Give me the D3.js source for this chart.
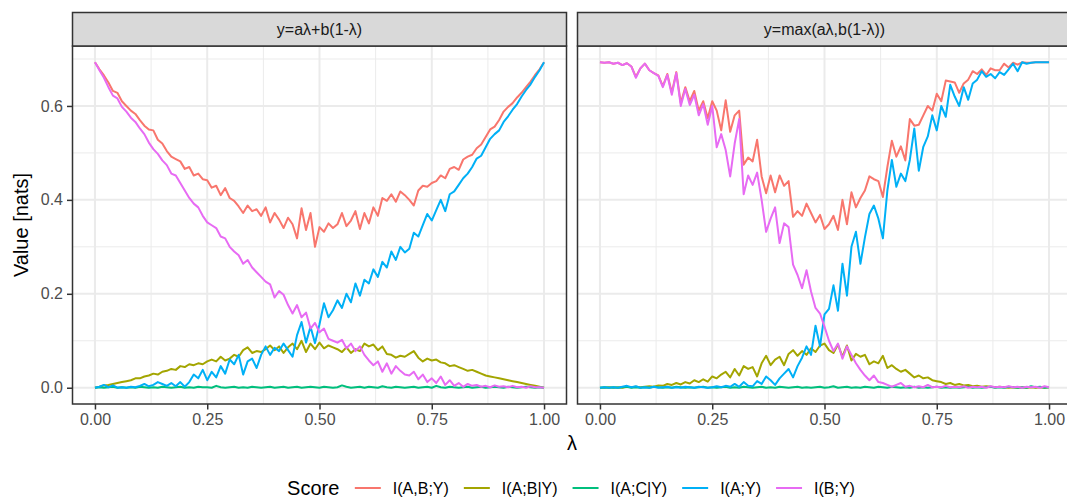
<!DOCTYPE html>
<meta charset="utf-8">
<script src="https://cdn.jsdelivr.net/npm/d3@7"></script>
<style>
  body { margin: 0; background: #fff; }
</style>
<body>
<script>
var lambda = d3.range(101).map(i => i / 100);
var scores = ["I(A,B;Y)", "I(A;B|Y)", "I(A;C|Y)", "I(A;Y)", "I(B;Y)"];
var colors = ["#F8766D", "#A3A500", "#00BF7D", "#00B0F6", "#E76BF3"];
var facets = ["y=aλ+b(1-λ)", "y=max(aλ,b(1-λ))"];
var xTicks = [0, 0.25, 0.5, 0.75, 1];
var xMinor = [0.125, 0.375, 0.625, 0.875];
var yTicks = [0, 0.2, 0.4, 0.6];
var yMinor = [0.1, 0.3, 0.5, 0.7];

// y = a*lambda + b*(1-lambda), one value per lambda step of 0.01
var linABY = [0.693,0.678,0.665,0.650,0.632,0.628,0.610,0.600,0.590,0.583,
  0.570,0.558,0.550,0.548,0.528,0.520,0.504,0.492,0.487,0.482,
  0.466,0.470,0.452,0.456,0.444,0.442,0.426,0.430,0.410,0.425,
  0.404,0.398,0.386,0.372,0.388,0.376,0.380,0.366,0.384,0.352,
  0.372,0.358,0.340,0.362,0.348,0.318,0.382,0.336,0.372,0.300,
  0.342,0.332,0.350,0.340,0.348,0.372,0.344,0.356,0.376,0.338,
  0.372,0.350,0.384,0.366,0.404,0.398,0.412,0.396,0.418,0.410,
  0.400,0.388,0.420,0.430,0.428,0.436,0.440,0.452,0.446,0.466,
  0.470,0.464,0.486,0.492,0.496,0.510,0.518,0.534,0.550,0.556,
  0.570,0.588,0.598,0.606,0.618,0.628,0.640,0.652,0.666,0.678,
  0.693];
var linABgY = [0.000,0.002,0.005,0.006,0.008,0.010,0.012,0.014,0.016,0.020,
  0.020,0.024,0.026,0.030,0.028,0.034,0.036,0.040,0.038,0.046,
  0.044,0.050,0.048,0.052,0.050,0.056,0.060,0.056,0.066,0.058,
  0.062,0.070,0.066,0.080,0.086,0.074,0.078,0.076,0.082,0.090,
  0.080,0.088,0.074,0.086,0.094,0.082,0.100,0.076,0.094,0.082,
  0.096,0.084,0.090,0.086,0.082,0.076,0.086,0.074,0.082,0.078,
  0.094,0.088,0.092,0.080,0.088,0.072,0.070,0.064,0.068,0.066,
  0.072,0.078,0.064,0.056,0.062,0.058,0.060,0.054,0.052,0.046,
  0.048,0.044,0.040,0.036,0.038,0.034,0.030,0.026,0.024,0.022,
  0.020,0.018,0.016,0.014,0.012,0.010,0.008,0.006,0.004,0.002,
  0.000];
var linACgY = [0.000,0.001,0.000,0.001,0.002,0.000,0.001,0.000,0.001,0.000,
  0.002,0.001,0.000,0.001,0.000,0.002,0.001,0.000,0.001,0.002,
  0.000,0.001,0.000,0.002,0.001,0.001,0.000,0.004,0.001,0.000,
  0.001,0.002,0.000,0.001,0.000,0.002,0.001,0.000,0.001,0.002,
  0.000,0.001,0.002,0.000,0.001,0.002,0.000,0.001,0.002,0.001,
  0.000,0.002,0.001,0.000,0.001,0.005,0.002,0.000,0.001,0.002,
  0.000,0.002,0.001,0.000,0.003,0.001,0.000,0.002,0.001,0.000,
  0.001,0.002,0.000,0.001,0.002,0.000,0.004,0.001,0.000,0.002,
  0.001,0.000,0.001,0.002,0.000,0.001,0.002,0.000,0.001,0.002,
  0.001,0.000,0.002,0.001,0.000,0.001,0.002,0.001,0.000,0.001,
  0.000];
var linAY = [0.000,0.002,0.006,0.001,0.005,0.000,0.001,0.000,0.002,0.001,
  0.004,0.008,0.003,0.006,0.012,0.008,0.004,0.010,0.003,0.012,
  0.002,0.012,0.028,0.020,0.038,0.016,0.034,0.022,0.046,0.030,
  0.060,0.050,0.070,0.028,0.056,0.062,0.042,0.070,0.088,0.070,
  0.085,0.078,0.094,0.080,0.066,0.112,0.140,0.096,0.130,0.095,
  0.135,0.180,0.150,0.165,0.186,0.170,0.200,0.182,0.222,0.196,
  0.230,0.222,0.252,0.236,0.268,0.256,0.290,0.272,0.300,0.288,
  0.296,0.330,0.322,0.346,0.370,0.356,0.378,0.400,0.376,0.412,
  0.418,0.432,0.446,0.456,0.470,0.488,0.494,0.512,0.530,0.540,
  0.548,0.566,0.578,0.592,0.604,0.620,0.634,0.646,0.662,0.676,
  0.693];
var linBY = [0.693,0.676,0.660,0.640,0.622,0.616,0.598,0.588,0.575,0.566,
  0.552,0.540,0.522,0.508,0.498,0.484,0.474,0.456,0.452,0.436,
  0.420,0.404,0.392,0.384,0.366,0.352,0.346,0.340,0.322,0.318,
  0.300,0.290,0.282,0.264,0.272,0.256,0.246,0.236,0.226,0.220,
  0.192,0.206,0.198,0.176,0.158,0.176,0.150,0.160,0.126,0.138,
  0.118,0.126,0.104,0.100,0.096,0.102,0.084,0.094,0.078,0.088,
  0.070,0.058,0.048,0.056,0.034,0.052,0.030,0.046,0.036,0.028,
  0.026,0.034,0.018,0.028,0.012,0.020,0.010,0.024,0.006,0.016,
  0.004,0.010,0.002,0.008,0.004,0.006,0.002,0.004,0.001,0.005,
  0.002,0.003,0.001,0.004,0.001,0.002,0.000,0.003,0.001,0.001,
  0.000];

// y = max(a*lambda, b*(1-lambda))
var maxABY = [0.693,0.692,0.693,0.690,0.692,0.687,0.691,0.684,0.662,0.680,
  0.690,0.676,0.670,0.665,0.642,0.668,0.628,0.672,0.606,0.640,
  0.610,0.632,0.590,0.610,0.574,0.610,0.590,0.548,0.612,0.545,
  0.580,0.590,0.475,0.490,0.482,0.528,0.450,0.414,0.452,0.416,
  0.452,0.430,0.440,0.364,0.376,0.366,0.392,0.372,0.352,0.368,
  0.338,0.348,0.366,0.336,0.400,0.348,0.416,0.384,0.404,0.420,
  0.450,0.444,0.440,0.406,0.470,0.526,0.492,0.514,0.484,0.572,
  0.558,0.560,0.580,0.600,0.590,0.626,0.610,0.654,0.652,0.650,
  0.628,0.648,0.656,0.674,0.668,0.678,0.666,0.680,0.676,0.676,
  0.690,0.682,0.692,0.688,0.693,0.692,0.692,0.693,0.693,0.693,
  0.693];
var maxABgY = [0.000,0.000,0.001,0.000,0.001,0.000,0.002,0.001,0.002,0.001,
  0.002,0.003,0.002,0.005,0.004,0.008,0.006,0.010,0.007,0.012,
  0.009,0.016,0.012,0.018,0.013,0.024,0.020,0.028,0.034,0.022,
  0.040,0.026,0.046,0.040,0.044,0.024,0.052,0.068,0.048,0.060,
  0.066,0.048,0.072,0.080,0.068,0.078,0.070,0.084,0.076,0.090,
  0.094,0.080,0.074,0.092,0.066,0.090,0.058,0.072,0.066,0.070,
  0.050,0.056,0.052,0.068,0.042,0.048,0.040,0.034,0.038,0.030,
  0.022,0.026,0.020,0.022,0.016,0.014,0.012,0.008,0.010,0.006,
  0.008,0.005,0.006,0.003,0.004,0.002,0.003,0.002,0.001,0.002,
  0.001,0.000,0.001,0.000,0.001,0.000,0.001,0.000,0.001,0.000,
  0.001];
var maxACgY = [0.000,0.001,0.000,0.001,0.000,0.001,0.002,0.000,0.001,0.000,
  0.001,0.000,0.002,0.001,0.000,0.001,0.000,0.002,0.001,0.000,
  0.001,0.000,0.001,0.002,0.000,0.001,0.000,0.001,0.002,0.000,
  0.001,0.000,0.002,0.001,0.000,0.001,0.002,0.000,0.001,0.000,
  0.002,0.001,0.000,0.001,0.002,0.000,0.001,0.000,0.001,0.002,
  0.000,0.001,0.003,0.000,0.001,0.002,0.000,0.001,0.000,0.002,
  0.001,0.000,0.002,0.001,0.000,0.002,0.001,0.000,0.001,0.000,
  0.002,0.000,0.001,0.000,0.001,0.002,0.000,0.001,0.000,0.001,
  0.000,0.001,0.002,0.000,0.001,0.000,0.001,0.002,0.000,0.001,
  0.000,0.002,0.001,0.000,0.001,0.000,0.003,0.001,0.002,0.000,
  0.001];
var maxAY = [0.000,0.001,0.000,0.001,0.000,0.002,0.004,0.001,0.003,0.000,
  0.001,0.000,0.002,0.000,0.001,0.002,0.000,0.001,0.000,0.002,
  0.001,0.000,0.002,0.001,0.000,0.001,0.003,0.001,0.004,0.002,
  0.008,0.002,0.012,0.004,0.003,0.014,0.008,0.024,0.016,0.006,
  0.020,0.030,0.040,0.022,0.046,0.064,0.088,0.070,0.132,0.088,
  0.156,0.168,0.218,0.164,0.264,0.196,0.300,0.332,0.264,0.320,
  0.370,0.388,0.360,0.318,0.420,0.485,0.428,0.456,0.440,0.485,
  0.552,0.462,0.513,0.535,0.580,0.548,0.600,0.577,0.645,0.620,
  0.600,0.640,0.613,0.648,0.656,0.674,0.662,0.668,0.659,0.672,
  0.666,0.678,0.690,0.674,0.693,0.690,0.692,0.693,0.693,0.693,
  0.693];
var maxBY = [0.693,0.692,0.693,0.690,0.692,0.687,0.691,0.684,0.660,0.680,
  0.690,0.676,0.670,0.664,0.640,0.666,0.624,0.670,0.600,0.636,
  0.602,0.624,0.580,0.604,0.560,0.600,0.512,0.540,0.506,0.450,
  0.520,0.572,0.412,0.452,0.432,0.458,0.400,0.332,0.360,0.384,
  0.308,0.350,0.342,0.262,0.240,0.212,0.250,0.205,0.170,0.158,
  0.130,0.100,0.078,0.094,0.062,0.088,0.070,0.052,0.038,0.026,
  0.016,0.026,0.012,0.010,0.006,0.002,0.006,0.010,0.002,0.004,
  0.001,0.003,0.001,0.006,0.001,0.002,0.001,0.004,0.001,0.002,
  0.001,0.003,0.000,0.002,0.001,0.002,0.000,0.003,0.001,0.002,
  0.001,0.003,0.001,0.002,0.000,0.002,0.001,0.002,0.000,0.003,
  0.001];

var panelSeries = [
  [linABY, linABgY, linACgY, linAY, linBY],
  [maxABY, maxABgY, maxACgY, maxAY, maxBY]
];

var width = 1067, height = 498;
var panelLeft = [72.5, 577.5], panelW = 494;
var panelTop = 46, panelBottom = 404, stripTop = 12.5;
var smallFont = 16, bigFont = 20;

var svg = d3.select("body").append("svg")
    .attr("width", width)
    .attr("height", height)
    .style("font-family", "'Liberation Sans', Arial, Helvetica, sans-serif");

var y = d3.scaleLinear([-0.03465, 0.72765], [panelBottom, panelTop]);
var color = d3.scaleOrdinal(scores, colors);

facets.forEach((name, i) => {
  var x0 = panelLeft[i], x1 = x0 + panelW;
  var x = d3.scaleLinear([-0.05, 1.05], [x0, x1]);
  var g = svg.append("g");

  // grid: minor first, then major
  g.append("g").selectAll("line").data(yMinor).join("line")
      .attr("x1", x0).attr("x2", x1)
      .attr("y1", d => y(d)).attr("y2", d => y(d))
      .attr("stroke", "#EBEBEB").attr("stroke-width", 1);
  g.append("g").selectAll("line").data(xMinor).join("line")
      .attr("x1", d => x(d)).attr("x2", d => x(d))
      .attr("y1", panelTop).attr("y2", panelBottom)
      .attr("stroke", "#EBEBEB").attr("stroke-width", 1);
  g.append("g").selectAll("line").data(yTicks).join("line")
      .attr("x1", x0).attr("x2", x1)
      .attr("y1", d => y(d)).attr("y2", d => y(d))
      .attr("stroke", "#EBEBEB").attr("stroke-width", 2);
  g.append("g").selectAll("line").data(xTicks).join("line")
      .attr("x1", d => x(d)).attr("x2", d => x(d))
      .attr("y1", panelTop).attr("y2", panelBottom)
      .attr("stroke", "#EBEBEB").attr("stroke-width", 2);

  var line = d3.line()
      .x((d, j) => x(lambda[j]))
      .y(d => y(d));

  g.append("g")
      .attr("fill", "none")
      .attr("stroke-width", 2)
      .attr("stroke-linejoin", "round")
    .selectAll("path")
    .data(panelSeries[i])
    .join("path")
      .attr("stroke", (d, k) => color(scores[k]))
      .attr("d", line);

  g.append("rect")
      .attr("x", x0).attr("y", panelTop)
      .attr("width", panelW).attr("height", panelBottom - panelTop)
      .attr("fill", "none").attr("stroke", "#333333").attr("stroke-width", 1.5);

  // facet strip
  g.append("rect")
      .attr("x", x0).attr("y", stripTop)
      .attr("width", panelW).attr("height", panelTop - stripTop)
      .attr("fill", "#D9D9D9").attr("stroke", "#333333").attr("stroke-width", 1.5);
  g.append("text")
      .attr("x", (x0 + x1) / 2)
      .attr("y", (stripTop + panelTop) / 2)
      .attr("dy", "0.35em")
      .attr("text-anchor", "middle")
      .attr("fill", "#1A1A1A")
      .style("font-size", smallFont + "px")
      .text(name);

  var xAxis = g.append("g")
      .attr("transform", `translate(0,${panelBottom})`)
      .call(d3.axisBottom(x).tickValues(xTicks).tickFormat(d3.format(".2f"))
        .tickSize(5.5).tickPadding(4.5));
  styleAxis(xAxis);

  if (i === 0) {
    var yAxis = g.append("g")
        .attr("transform", `translate(${x0},0)`)
        .call(d3.axisLeft(y).tickValues(yTicks).tickFormat(d3.format(".1f"))
          .tickSize(5.5).tickPadding(4));
    styleAxis(yAxis);
  }
});

function styleAxis(a) {
  a.select(".domain").remove();
  a.selectAll(".tick line").attr("stroke", "#333333").attr("stroke-width", 1.5);
  a.selectAll(".tick text")
      .attr("fill", "#4D4D4D")
      .style("font-size", smallFont + "px")
      .style("font-family", "'Liberation Sans', Arial, Helvetica, sans-serif");
}

svg.append("text")
    .attr("x", (panelLeft[0] + panelLeft[1] + panelW) / 2)
    .attr("y", 450)
    .attr("text-anchor", "middle")
    .style("font-size", bigFont + "px")
    .text("λ");

svg.append("text")
    .attr("transform", `translate(28,${(panelTop + panelBottom) / 2}) rotate(-90)`)
    .attr("text-anchor", "middle")
    .style("font-size", bigFont + "px")
    .text("Value [nats]");

// legend, laid out left to right then centred
var legend = svg.append("g");
var legendY = 488;
var cursor = 0;
var title = legend.append("text")
    .attr("x", 0).attr("y", legendY).attr("dy", "0.35em")
    .style("font-size", bigFont + "px")
    .text("Score");
cursor = title.node().getComputedTextLength() + 15.5;
scores.forEach(s => {
  legend.append("line")
      .attr("x1", cursor).attr("x2", cursor + 26)
      .attr("y1", legendY).attr("y2", legendY)
      .attr("stroke", color(s)).attr("stroke-width", 2);
  var t = legend.append("text")
      .attr("x", cursor + 38).attr("y", legendY).attr("dy", "0.35em")
      .attr("fill", "#000")
      .style("font-size", smallFont + "px")
      .text(s);
  cursor += 38 + t.node().getComputedTextLength() + 15;
});
var legendW = cursor - 15;
legend.attr("transform", `translate(${571 - legendW / 2},0)`);
</script>
